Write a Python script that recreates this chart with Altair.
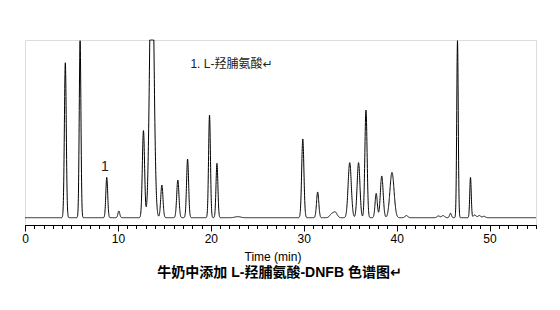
import altair as alt
import numpy as np
import pandas as pd

# Peak table (retention time in min, relative height, width sigma in min)
peak_times = [4.34, 5.93, 8.80, 10.10, 12.75, 13.65, 14.73, 16.45, 17.50, 19.86, 20.66, 22.9,
              29.90, 31.50, 33.0, 33.4, 34.95, 35.90, 36.70, 37.80, 38.40, 39.50, 41.05,
              44.5, 45.0, 45.8, 46.55, 47.95, 48.4, 48.9, 49.4]
peak_heights = [87.2, 99.6, 22.7, 3.8, 49.0, 165.0, 18.4, 21.2, 33.0, 57.8, 30.6, 0.6,
                44.3, 14.5, 2.0, 3.0, 31.0, 31.0, 60.6, 13.7, 23.5, 25.5, 1.2,
                1.0, 1.2, 2.5, 99.6, 22.7, 1.5, 1.2, 0.8]
peak_sigmas = [0.10, 0.09, 0.10, 0.10, 0.12, 0.22, 0.12, 0.12, 0.11, 0.10, 0.10, 0.30,
               0.12, 0.12, 0.20, 0.20, 0.17, 0.15, 0.12, 0.12, 0.15, 0.22, 0.15,
               0.15, 0.15, 0.10, 0.08, 0.08, 0.15, 0.15, 0.15]
detector_max = 100.0

time_range = [0, 55]
major_ticks = [0, 10, 20, 30, 40, 50]
minor_ticks = list(range(0, 56))

title_text = "牛奶中添加 L-羟脯氨酸-DNFB 色谱图↵"
legend_text = "1. L-羟脯氨酸↵"
legend_pos = [17.8, 86.5]
peak_label = "1"
peak_label_pos = [8.59, 28.5]

# build the trace from the peak table
t = np.round(np.arange(time_range[0], time_range[1] + 1e-9, 0.01), 3)
sig = np.zeros_like(t)
for c, h, s in zip(peak_times, peak_heights, peak_sigmas):
    sig += h * np.exp(-0.5 * ((t - c) / s) ** 2)
sig = np.minimum(sig, detector_max)
df = pd.DataFrame({"t": t, "v": sig})

FONT = "Liberation Sans, Noto Sans CJK SC, DejaVu Sans"

xscale = alt.Scale(domain=time_range, nice=False, zero=False)
yscale = alt.Scale(domain=[-4.1, 100], nice=False, zero=False)

line = alt.Chart(df).mark_line(color="black", strokeWidth=1).encode(
    x=alt.X("t:Q", scale=xscale,
            axis=alt.Axis(
                orient="bottom", values=major_ticks, tickSize=6,
                tickColor="black", domainColor="black", domainWidth=1, tickWidth=1,
                labelColor="black", labelFont=FONT, labelFontSize=12, labelPadding=2,
                labelFlush=False, labelOverlap=False, grid=False,
                title="Time (min)", titleFont=FONT, titleFontSize=12,
                titleFontWeight="normal", titleColor="black",
                titleX=247.5, titleY=35, titleBaseline="alphabetic", titleAlign="center",
            )),
    y=alt.Y("v:Q", scale=yscale, axis=None),
)

minor = alt.Chart(pd.DataFrame({"t": minor_ticks})).mark_point(opacity=0).encode(
    x=alt.X("t:Q", scale=xscale,
            axis=alt.Axis(orient="bottom", values=minor_ticks, tickSize=3.5, labels=False,
                          tickColor="black", domainColor="black", domainWidth=1, tickWidth=1,
                          grid=False, title=None)),
    y=alt.value(0),
)

ann = alt.Chart(pd.DataFrame({"t": [legend_pos[0]], "v": [legend_pos[1]], "label": [legend_text]})).mark_text(
    align="left", baseline="middle", font=FONT, fontSize=12, color="#222222"
).encode(x=alt.X("t:Q", scale=xscale, axis=None),
         y=alt.Y("v:Q", scale=yscale, axis=None), text="label:N")

plabel = alt.Chart(pd.DataFrame({"t": [peak_label_pos[0]], "v": [peak_label_pos[1]], "label": [peak_label]})).mark_text(
    align="center", baseline="middle", font=FONT, fontSize=14, color="#222222"
).encode(x=alt.X("t:Q", scale=xscale, axis=None),
         y=alt.Y("v:Q", scale=yscale, axis=None), text="label:N")

chart = alt.layer(line, minor, ann, plabel).resolve_axis(x="independent").properties(
    width=511, height=185,
    title=alt.TitleParams(title_text, orient="bottom", anchor="middle", font=FONT,
                          fontSize=14, fontWeight="bold", color="black", offset=4, dx=-1),
    autosize=alt.AutoSizeParams(type="none"),
    padding={"left": 25, "top": 40, "right": 24, "bottom": 85},
).configure_view(stroke=None).configure(background="white")

chart.save("out.html", embed_options={"renderer": "svg", "actions": False})
